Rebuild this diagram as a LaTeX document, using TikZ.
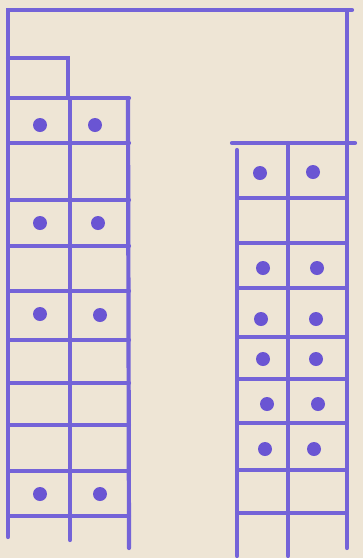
\documentclass[tikz,border=0pt]{standalone}
\definecolor{paper}{HTML}{EEE5D5}
\definecolor{ink}{HTML}{7463D8}
\definecolor{dotink}{HTML}{6A55D3}
\tikzset{
  ln/.style={draw=ink, line width=4.2pt, line cap=round},
  dot/.style={fill=dotink},
}
\begin{document}
\begin{tikzpicture}[x=1pt,y=-1pt]
\fill[paper] (0,0) rectangle (363,558);
\useasboundingbox (0,0) rectangle (363,558);
% outer frame
\draw[ln] (8,537) -- (8,10) -- (352,10);
\draw[ln] (347,12) -- (347,548);
% small top box
\draw[ln] (8,58) -- (68,58) -- (68,98);
% left ladder
\draw[ln] (70,98) -- (70,540);
\draw[ln] (128,98) -- (129,548);
\foreach \y in {98,143,200,246,291,340,383,425,471,516}
  \draw[ln] (9,\y) -- (129,\y);
% right ladder
\draw[ln] (232,143) -- (355,143);
\draw[ln] (237,150) -- (237,556);
\draw[ln] (288,143) -- (288,556);
\foreach \y in {198,243,288,337,379,423,470,513}
  \draw[ln] (238,\y) -- (346,\y);
% dots left
\foreach \p in {(40,125),(95,125),(40,223),(98,223),(40,314),(100,315),(40,494),(100,494)}
  \fill[dot] \p circle (7);
% dots right
\foreach \p in {(260,173),(313,172),(263,268),(317,268),(261,319),(316,319),(263,359),(316,359),(267,404),(318,404),(265,449),(314,449)}
  \fill[dot] \p circle (7);
\end{tikzpicture}
\end{document}
